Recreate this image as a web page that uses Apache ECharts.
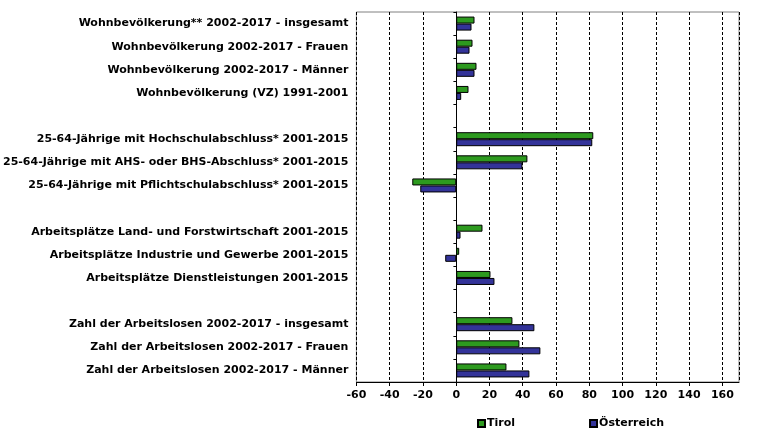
<!DOCTYPE html>
<html><head><meta charset="utf-8">
<script src="https://cdn.jsdelivr.net/npm/echarts@6/dist/echarts.min.js"></script>
<style>html,body{margin:0;padding:0;background:#fff}#c{width:777px;height:442px}</style>
</head><body><div id="c"></div>
<script>
const categories = [
  "Wohnbevölkerung** 2002-2017 - insgesamt",
  "Wohnbevölkerung 2002-2017 - Frauen",
  "Wohnbevölkerung 2002-2017 - Männer",
  "Wohnbevölkerung (VZ) 1991-2001",
  "",
  "25-64-Jährige mit Hochschulabschluss* 2001-2015",
  "25-64-Jährige mit AHS- oder BHS-Abschluss* 2001-2015",
  "25-64-Jährige mit Pflichtschulabschluss* 2001-2015",
  " ",
  "Arbeitsplätze Land- und Forstwirtschaft 2001-2015",
  "Arbeitsplätze Industrie und Gewerbe 2001-2015",
  "Arbeitsplätze Dienstleistungen 2001-2015",
  "  ",
  "Zahl der Arbeitslosen 2002-2017 - insgesamt",
  "Zahl der Arbeitslosen 2002-2017 - Frauen",
  "Zahl der Arbeitslosen 2002-2017 - Männer"
];
const tirol = [11, 9.8, 12.2, 7.4, null, 82.4, 42.8, -26.4, null, 15.8, 1.8, 20.6, null, 33.8, 38, 30.2];
const oesterreich = [9.2, 8, 11, 3, null, 81.8, 39.8, -21.6, null, 2.6, -6.6, 23, null, 47, 50.6, 44];
const seriesNames = ["Tirol", "Österreich"];

const FONT = "DejaVu Sans";
const X_MIN = -60, X_MAX = 170, GRID_LEFT = 355, GRID_RIGHT = 38, W = 777;
const zeroOffset = -Math.round((0 - X_MIN) / (X_MAX - X_MIN) * (W - GRID_LEFT - GRID_RIGHT));
const chart = echarts.init(document.getElementById('c'), null, {renderer: 'canvas'});
chart.setOption({
  animation: false,
  textStyle: {fontFamily: FONT},
  grid: {left: GRID_LEFT, right: GRID_RIGHT, top: 12, bottom: 60, show: true, borderColor: '#808080', borderWidth: 1, containLabel: false},
  legend: {
    bottom: 8, left: 472, itemGap: 74, itemWidth: 7, itemHeight: 7, icon: 'rect',
    textStyle: {fontFamily: FONT, fontWeight: 'bold', fontSize: 11, color: '#000', padding: [0, 0, 0, -3]},
    data: seriesNames
  },
  xAxis: {
    type: 'value', min: X_MIN, max: X_MAX, interval: 20,
    axisLine: {show: true, onZero: false, lineStyle: {color: '#000'}},
    axisTick: {show: true, length: 4, lineStyle: {color: '#000'}},
    axisLabel: {fontFamily: FONT, fontWeight: 'bold', fontSize: 11, color: '#000', margin: 8,
      showMaxLabel: false, formatter: v => (v > 160 ? '' : String(v))},
    splitLine: {show: true, lineStyle: {color: '#000', type: [3, 2], width: 1}}
  },
  yAxis: [{
    type: 'category', data: categories, inverse: true, position: 'left',
    axisLine: {show: false}, axisTick: {show: false},
    axisLabel: {fontFamily: FONT, fontWeight: 'bold', fontSize: 11, color: '#000', margin: 8}
  }, {
    type: 'category', data: categories, inverse: true, position: 'left', offset: zeroOffset,
    axisLine: {show: true, onZero: false, lineStyle: {color: '#000'}},
    axisTick: {show: true, length: 3, lineStyle: {color: '#000'}},
    axisLabel: {show: false}
  }],
  series: [{
    name: seriesNames[0], type: 'bar', data: tirol, yAxisIndex: 0,
    barWidth: 7, barGap: '0%',
    itemStyle: {color: '#2d9a1f', borderColor: '#000', borderWidth: 1}
  }, {
    name: seriesNames[1], type: 'bar', data: oesterreich, yAxisIndex: 0,
    barWidth: 7, barGap: '0%',
    itemStyle: {color: '#333399', borderColor: '#000', borderWidth: 1}
  }]
});
</script></body></html>
